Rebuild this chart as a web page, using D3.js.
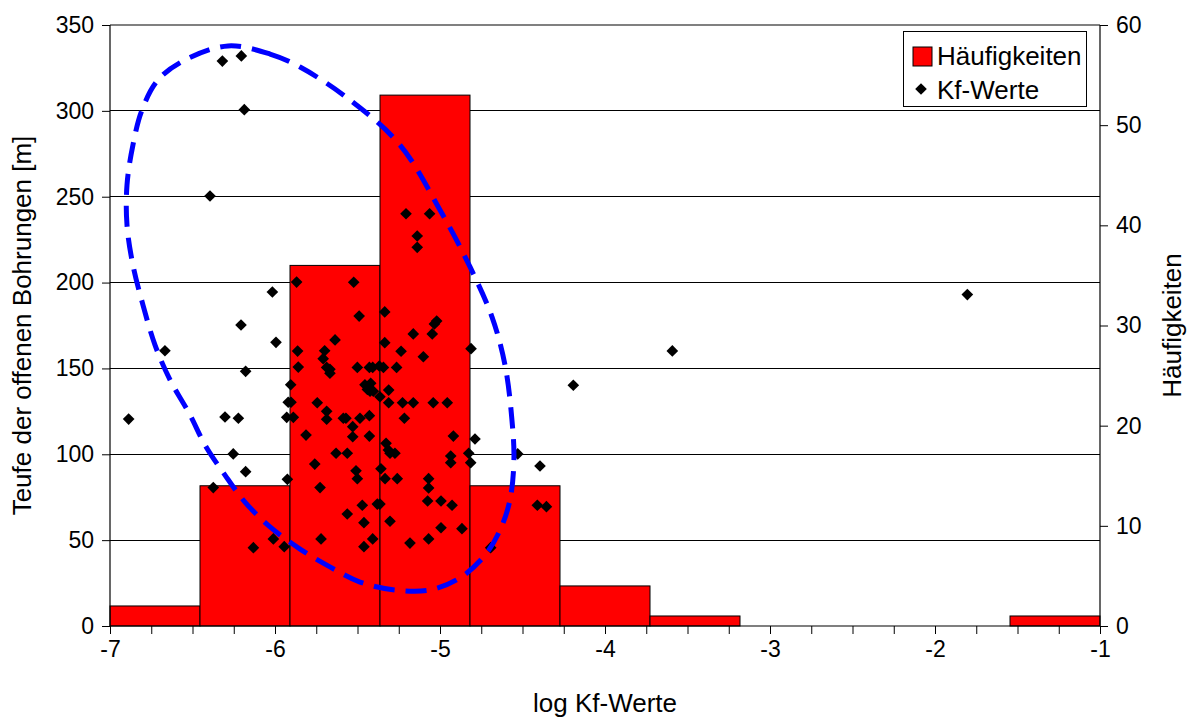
<!DOCTYPE html>
<html><head><meta charset="utf-8">
<script src="https://cdn.jsdelivr.net/npm/d3@7/dist/d3.min.js"></script>
<style>
html,body{margin:0;padding:0;background:#fff;}
text{font-family:"Liberation Sans",Arial,sans-serif;fill:#000;}
</style></head>
<body>
<svg id="chart" width="1192" height="720"></svg>
<script>
// ---- data ----
const binCounts = [2, 14, 36, 53, 14, 4, 1, 0, 0, 0, 1];
const kfX = [-6.887,-6.667,-6.319,-6.204,-6.186,-6.394,-6.016,-6.206,-5.994,-6.178,-6.303,-6.222,-5.929,-5.920,-6.253,-6.178,-5.925,-6.374,-6.010,-6.131,-5.944,
-5.903,-5.889,-5.905,-5.869,-5.863,-5.859,-5.523,-5.490,-5.636,-5.699,-5.708,-5.687,-5.667,-5.667,-5.501,-5.428,-5.408,-5.368,-5.455,-5.420,-5.440,-5.424,-5.404,-5.364,-5.744,-5.687,-5.687,-5.586,-5.570,-5.485,-5.428,-5.529,-5.812,-5.529,-5.428,-5.630,-5.562,-5.759,-5.509,-5.501,-5.727,-5.471,-5.380,-5.562,-5.461,-5.721,-5.408,-5.461,-5.364,
-5.335,-5.020,-5.034,-5.162,-5.047,-5.335,-5.236,-5.101,-4.812,-5.343,-5.263,-5.311,-5.311,-5.227,-5.162,-5.041,-4.956,-5.216,-4.919,-4.788,-5.327,-5.313,-5.303,-5.273,-4.935,-4.935,-4.826,-4.814,-5.358,-5.333,-5.259,-5.069,-5.069,-5.075,-4.994,-4.927,-5.303,-4.994,-4.867,-5.069,-5.182,-5.206,-5.063,-5.138,-5.138,
-4.192,-4.529,-4.394,-4.410,-4.355,-4.693,-3.592,-1.804];
const kfY = [120.5,160.3,329.0,332.0,300.7,250.4,194.5,175.3,165.2,148.3,121.7,121.0,121.5,130.3,100.2,89.9,85.4,80.6,50.7,45.6,46.2,
130.3,121.5,140.5,200.3,160.1,150.8,200.2,180.5,166.6,160.3,155.7,150.6,149.5,147.2,150.6,150.6,150.6,151.4,140.5,141.3,137.8,136.7,136.7,133.5,130.0,125.0,120.4,121.0,121.0,121.0,122.5,116.1,111.2,110.2,110.6,100.6,100.6,94.3,90.4,85.8,80.6,70.3,71.0,65.2,60.2,50.7,50.7,46.2,71.0,
182.9,177.6,175.9,170.1,170.1,165.0,160.0,156.8,161.5,150.6,150.6,137.4,130.0,130.0,130.0,130.0,130.0,121.0,110.6,108.9,106.4,102.5,100.6,100.6,99.0,95.1,100.6,95.1,91.6,85.8,85.8,85.8,80.4,72.8,72.8,70.3,61.0,57.2,56.7,50.7,48.3,240.1,240.1,227.1,220.5,
140.2,100.2,93.2,70.3,69.5,45.6,160.2,193.0];
// dashed annotation outline (data coordinates)
const ringX = [-6.285,-6.030,-5.848,-5.545,-5.242,-5.000,-4.818,-4.685,-4.606,-4.564,-4.552,-4.576,-4.636,-4.727,-4.879,-5.061,-5.273,-5.485,-5.667,-5.848,-6.030,-6.182,-6.303,-6.424,-6.515,-6.636,-6.727,-6.800,-6.861,-6.897,-6.897,-6.861,-6.806,-6.709,-6.545];
const ringY = [337.8,333.1,325.5,306.3,280.1,242.3,209.1,180.0,152.0,120.0,96.7,73.4,55.9,41.3,28.0,21.0,21.0,25.6,34.4,44.8,57.7,72.2,87.9,105.4,122.9,143.3,163.6,186.9,210.2,233.5,256.8,280.1,300.5,318.0,329.6];
const leftTicks = [0,50,100,150,200,250,300,350];
const rightTicks = [0,10,20,30,40,50,60];
const xDomain = [-7,-1];
const legendLabels = ["Häufigkeiten","Kf-Werte"];
const xTitle = "log Kf-Werte", yTitle = "Teufe der offenen Bohrungen [m]", y2Title = "Häufigkeiten";

// ---- layout ----
const W = 1192, H = 720;
const m = {l:110, r:92, t:25, b:94};
const svg = d3.select("#chart");
const x = d3.scaleLinear().domain(xDomain).range([m.l, W-m.r]);
const yL = d3.scaleLinear().domain([0,350]).range([H-m.b, m.t]);
const yR = d3.scaleLinear().domain([0,60]).range([H-m.b, m.t]);
const nb = binCounts.length, bw = (xDomain[1]-xDomain[0])/nb;
const bins = binCounts.map((c,i)=>({x0: xDomain[0]+i*bw, x1: xDomain[0]+(i+1)*bw, c}));

// gridlines
svg.append("g").selectAll("line").data(leftTicks.filter(d=>d>0&&d<350)).join("line")
  .attr("x1",m.l).attr("x2",W-m.r).attr("y1",d=>yL(d)).attr("y2",d=>yL(d))
  .attr("stroke","#000").attr("stroke-width",1).attr("shape-rendering","crispEdges");
svg.append("line").attr("x1",m.l).attr("x2",W-m.r).attr("y1",yL(350)).attr("y2",yL(350))
  .attr("stroke","#808080").attr("stroke-width",1.5).attr("shape-rendering","crispEdges");

// bars
svg.append("g").selectAll("rect").data(bins.filter(b=>b.c>0)).join("rect")
  .attr("x",d=>x(d.x0)).attr("width",d=>x(d.x1)-x(d.x0))
  .attr("y",d=>yR(d.c)).attr("height",d=>yR(0)-yR(d.c))
  .attr("fill","#ff0000").attr("stroke","#000").attr("stroke-width",1);

// scatter
const pts = kfX.map((v,i)=>({x:v,y:kfY[i]}));
const diamond = d3.symbol().type(d3.symbolSquare).size(68);
svg.append("g").selectAll("path").data(pts).join("path")
  .attr("d",diamond).attr("transform",d=>`translate(${x(d.x)},${yL(d.y)}) rotate(45)`)
  .attr("fill","#000");

// dashed ellipse
const ring = ringX.map((v,i)=>[x(v), yL(ringY[i])]);
svg.append("path").attr("d", d3.line().curve(d3.curveCatmullRomClosed)(ring))
  .attr("fill","none").attr("stroke","#0000ff").attr("stroke-width",5)
  .attr("stroke-dasharray","21,11");

// axes
const fs = 23;
const xa = d3.axisBottom(x).tickValues(d3.range(0,25).map(i=>xDomain[0]+i*0.25))
  .tickSize(8).tickFormat(d=>Math.abs(d-Math.round(d))<1e-9?String(Math.round(d)):"");
const gx = svg.append("g").attr("transform",`translate(0,${H-m.b})`).call(xa);
gx.selectAll("text").attr("font-size",fs).attr("dy","0.85em");
const ya = d3.axisLeft(yL).tickValues(leftTicks).tickSize(8).tickFormat(d=>String(d));
const gy = svg.append("g").attr("transform",`translate(${m.l},0)`).call(ya);
gy.selectAll("text").attr("font-size",fs).attr("x",-16);
const yra = d3.axisRight(yR).tickValues(rightTicks).tickSize(8).tickFormat(d=>String(d));
const gyr = svg.append("g").attr("transform",`translate(${W-m.r},0)`).call(yra);
gyr.selectAll("text").attr("font-size",fs).attr("x",16);
svg.selectAll(".domain").attr("stroke","#000").attr("stroke-width",1.2);
svg.selectAll(".tick line").attr("stroke","#000");
gx.select(".domain").attr("d",`M${m.l},0H${W-m.r}`);
gy.select(".domain").attr("d",`M0,${yL(0)}V${yL(350)}`);
gyr.select(".domain").attr("d",`M0,${yR(0)}V${yR(60)}`);

// titles
svg.append("text").attr("x",(m.l+W-m.r)/2).attr("y",712).attr("text-anchor","middle")
  .attr("font-size",26).text(xTitle);
svg.append("text").attr("transform",`translate(31,${(m.t+H-m.b)/2}) rotate(-90)`)
  .attr("text-anchor","middle").attr("font-size",26).text(yTitle);
svg.append("text").attr("transform",`translate(1181,${(m.t+H-m.b)/2}) rotate(-90)`)
  .attr("text-anchor","middle").attr("font-size",26).text(y2Title);

// legend
const lg = svg.append("g");
lg.append("rect").attr("x",903.5).attr("y",31.5).attr("width",183).attr("height",75)
  .attr("fill","#fff").attr("stroke","#000").attr("stroke-width",1);
lg.append("rect").attr("x",913).attr("y",47).attr("width",19).attr("height",19)
  .attr("fill","#ff0000").attr("stroke","#000").attr("stroke-width",1);
lg.append("path").attr("d",diamond).attr("transform","translate(921,89) rotate(45)").attr("fill","#000");
lg.selectAll("text").data(legendLabels).join("text")
  .attr("x",937).attr("y",(d,i)=>65+i*34).attr("font-size",26).text(d=>d);
</script>
</body></html>
